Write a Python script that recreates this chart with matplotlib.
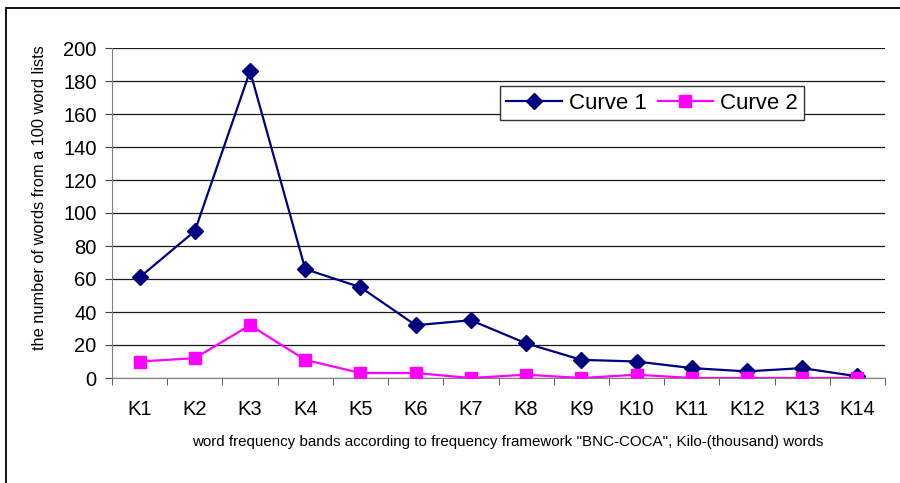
import matplotlib.pyplot as plt
from matplotlib.patches import Rectangle
from matplotlib.ticker import FixedLocator

# data
bands = ['K1', 'K2', 'K3', 'K4', 'K5', 'K6', 'K7', 'K8', 'K9', 'K10', 'K11', 'K12', 'K13', 'K14']
curve1 = [61, 89, 186, 66, 55, 32, 35, 21, 11, 10, 6, 4, 6, 1]
curve2 = [10, 12, 32, 11, 3, 3, 0, 2, 0, 2, 0, 0, 0, 0]

plt.rcParams['font.family'] = ['Liberation Sans', 'DejaVu Sans']

W, H = 900, 483
fig = plt.figure(figsize=(W / 100, H / 100), dpi=100)
ax = fig.add_axes([112 / W, (H - 378) / H, 773 / W, 330 / H])

x = list(range(len(bands)))
ax.plot(x, curve1, color='#000080', lw=1.6, marker='D', ms=8, label='Curve 1', zorder=3)
ax.plot(x, curve2, color='#FF00FF', lw=1.6, marker='s', ms=8, label='Curve 2', zorder=3)

ax.set_xlim(-0.5, len(bands) - 0.5)
ax.set_ylim(0, 200)
ax.set_yticks(range(0, 201, 20))
ax.grid(axis='y', color='#1a1a1a', lw=0.9)
ax.set_axisbelow(True)

for s in ['top', 'right']:
    ax.spines[s].set_visible(False)
ax.spines['left'].set_color('#808080')
ax.spines['bottom'].set_color('#808080')

ax.set_xticks(x)
ax.set_xticklabels(bands)
ax.xaxis.set_minor_locator(FixedLocator([i - 0.5 for i in range(len(bands) + 1)]))
ax.tick_params(axis='x', which='major', length=0, pad=16, labelsize=14.5)
ax.tick_params(axis='x', which='minor', length=5, color='#404040', direction='out')
ax.tick_params(axis='y', length=5, color='#404040', pad=6, labelsize=14.5)

ax.legend(loc='center', bbox_to_anchor=(0.6986, 0.8333), ncol=2, fontsize=16,
          frameon=True, fancybox=False, edgecolor='#333333', framealpha=1,
          handlelength=2.5, handletextpad=0.3, columnspacing=0.5,
          borderpad=0.3, borderaxespad=0)

fig.text(508 / W, 1 - 442 / H,
         'word frequency bands according to frequency framework "BNC-COCA", Kilo-(thousand) words',
         ha='center', va='center', fontsize=10.9)
ylab = fig.text(40 / W, 1 - 350 / H, 'the number of words from a 100 word lists',
                rotation=90, ha='center', va='bottom', fontsize=11.8)
# the original label is cut off at the top
clip = Rectangle((0, 0), 1, 1 - 43 / H, transform=fig.transFigure)
ylab.set_clip_path(clip)

# outer chart border
fig.patches.append(Rectangle((6 / W, -0.2), 2, 1.2 - 8 / H, transform=fig.transFigure,
                             fill=False, edgecolor='black', lw=1.3, clip_on=False))

fig.savefig('out.png', dpi=100)
